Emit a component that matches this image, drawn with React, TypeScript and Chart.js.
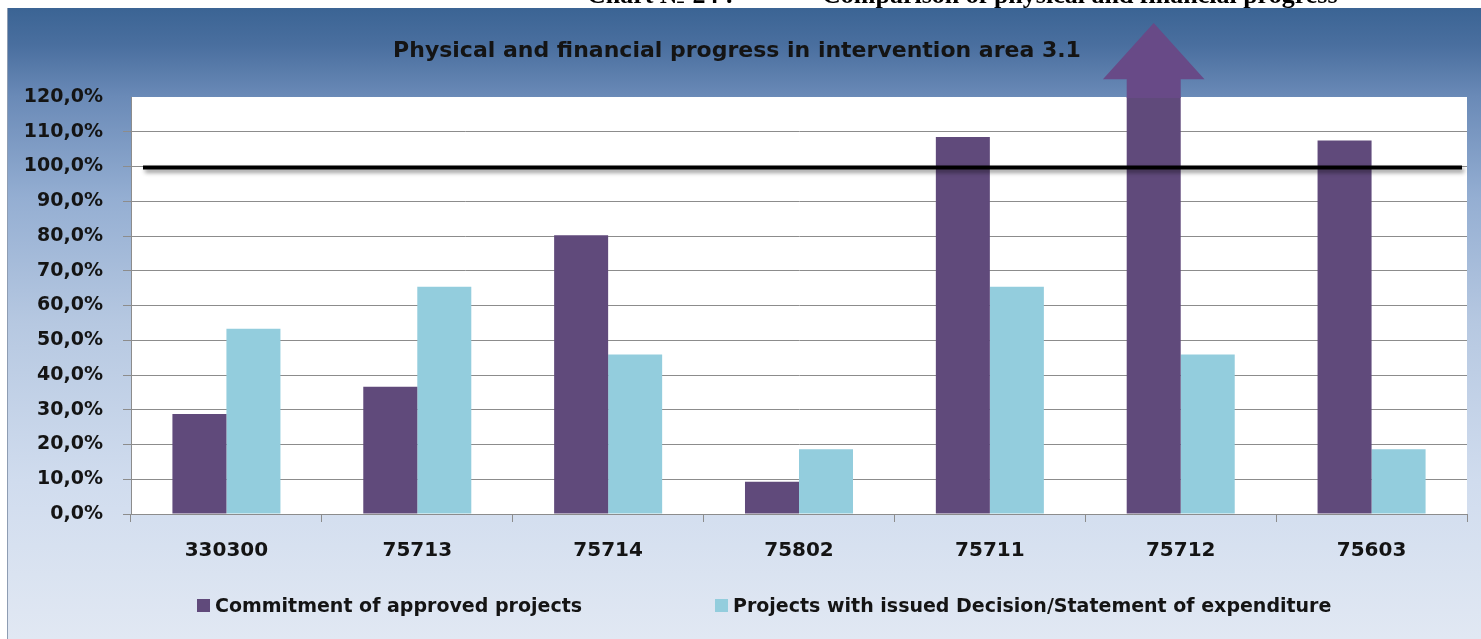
import React, { useEffect, useRef } from "react";
import { Chart, registerables } from "chart.js";

Chart.register(...registerables);

// ---- data ----
const categories = ["330300", "75713", "75714", "75802", "75711", "75712", "75603"];
const commitment = [28.8, 36.6, 80.2, 9.3, 108.5, 120, 107.5];
const issued = [53.3, 65.4, 45.9, 18.6, 65.4, 45.9, 18.6];
const seriesNames = [
  "Commitment of approved projects",
  "Projects with issued Decision/Statement of expenditure",
];
const yMin = 0;
const yMax = 120;
const yStep = 10;
const referenceLevel = 100;
const chartTitle = "Physical and financial progress in intervention area 3.1";
const captionNumber = "Chart № 24 :";
const captionText = "Comparison of physical and financial progress";

const FONT = "'DejaVu Sans', sans-serif";
const PURPLE = "#604A7B";
const AQUA = "#93CDDD";
const seriesColors = [PURPLE, AQUA];
const ARROW = "#684A87";
const GRID = "#8c8c8c";
const TEXT = "#141414";

const fmt = (v: number) => v.toFixed(1).replace(".", ",") + "%";

const plotBackground = {
  id: "plotBackground",
  beforeDraw(chart: any) {
    const { ctx, chartArea: a } = chart;
    ctx.save();
    ctx.fillStyle = "#ffffff";
    ctx.fillRect(a.left, a.top, a.right - a.left, a.bottom - a.top);
    ctx.restore();
  },
};

const overlays = {
  id: "overlays",
  afterDatasetsDraw(chart: any) {
    const { ctx, chartArea: a } = chart;
    // arrow for off-scale bars
    const meta = chart.getDatasetMeta(0);
    commitment.forEach((v, i) => {
      if (v < yMax) return;
      const bar: any = meta.data[i];
      const { x, width } = bar.getProps(["x", "width"], true);
      const half = width / 2;
      const top = a.top + 1;
      const headBase = a.top - width * 0.33;
      const tip = a.top - width * 1.37;
      const headHalf = width * 0.94;
      ctx.save();
      ctx.fillStyle = ARROW;
      ctx.beginPath();
      ctx.moveTo(x - half, top);
      ctx.lineTo(x - half, headBase);
      ctx.lineTo(x - headHalf, headBase);
      ctx.lineTo(x, tip);
      ctx.lineTo(x + headHalf, headBase);
      ctx.lineTo(x + half, headBase);
      ctx.lineTo(x + half, top);
      ctx.closePath();
      ctx.fill();
      ctx.restore();
    });
    // reference line
    const y = chart.scales.y.getPixelForValue(referenceLevel) + 1;
    ctx.save();
    ctx.shadowColor = "rgba(0,0,0,0.45)";
    ctx.shadowBlur = 4;
    ctx.shadowOffsetX = 2;
    ctx.shadowOffsetY = 3;
    ctx.strokeStyle = "#000";
    ctx.lineWidth = 4;
    ctx.beginPath();
    ctx.moveTo(a.left + 12, y);
    ctx.lineTo(a.right - 5, y);
    ctx.stroke();
    ctx.restore();
  },
};

const legendLefts = [197, 715];

export default function App() {
  const ref = useRef<HTMLCanvasElement | null>(null);

  useEffect(() => {
    if (!ref.current) return;
    const chart = new Chart(ref.current, {
      type: "bar",
      data: {
        labels: categories,
        datasets: [
          {
            label: seriesNames[0],
            data: commitment,
            backgroundColor: PURPLE,
            categoryPercentage: 0.566,
            barPercentage: 1,
          },
          {
            label: seriesNames[1],
            data: issued,
            backgroundColor: AQUA,
            categoryPercentage: 0.566,
            barPercentage: 1,
          },
        ],
      },
      options: {
        responsive: false,
        animation: false,
        devicePixelRatio: 1,
        layout: { padding: { left: 0, right: 14, top: 0, bottom: 62 } },
        plugins: {
          title: {
            display: true,
            text: chartTitle,
            color: TEXT,
            font: { family: FONT, size: 22, weight: "bold" },
            padding: { top: 30, bottom: 32.6 },
          },
          legend: { display: false },
          tooltip: { enabled: false },
        },
        scales: {
          x: {
            grid: {
              drawOnChartArea: false,
              drawTicks: true,
              tickLength: 8,
              color: GRID,
              offset: true,
            },
            border: { color: GRID },
            ticks: {
              color: TEXT,
              font: { family: FONT, size: 20, weight: "bold" },
              padding: 17,
            },
            afterFit(scale: any) {
              scale.height = 63;
            },
          },
          y: {
            min: yMin,
            max: yMax,
            grid: {
              color: (c: any) => (c.tick && c.tick.value === yMax ? "rgba(0,0,0,0)" : GRID),
              tickLength: 8,
            },
            border: { color: GRID },
            ticks: {
              stepSize: yStep,
              color: TEXT,
              font: { family: FONT, size: 19, weight: "bold" },
              padding: 20,
              callback: (v: any) => fmt(Number(v)),
            },
            afterFit(scale: any) {
              scale.width = 124;
            },
          },
        },
      },
      plugins: [plotBackground, overlays],
    });
    return () => chart.destroy();
  }, []);

  return (
    <div>
      <div
        style={{
          position: "fixed",
          top: -18,
          left: 0,
          width: 1481,
          height: 30,
          fontFamily: "'Liberation Serif', serif",
          fontWeight: "bold",
          fontSize: 26,
          lineHeight: "26px",
          color: "#000",
          whiteSpace: "nowrap",
        }}
      >
        <span style={{ position: "absolute", left: 587, top: 0 }}>{captionNumber}</span>
        <span style={{ position: "absolute", left: 822, top: 0 }}>{captionText}</span>
      </div>
      <div
        style={{
          position: "fixed",
          left: 7,
          top: 8,
          width: 1474,
          height: 631,
          background:
            "linear-gradient(to bottom, #3b6494 0%, #4a6f9f 6%, #6a8ab7 14%, #94aed2 30%, #b6c8e1 50%, #d0dcee 75%, #e1e8f3 100%)",
          boxShadow: "inset 1px 0 0 #8e9db3",
        }}
      >
        <canvas ref={ref} width={1474} height={631} style={{ display: "block" }} />
      </div>
      {seriesNames.map((name, i) => (
        <div
          key={name}
          style={{
            position: "fixed",
            top: 593,
            left: legendLefts[i],
            height: 24,
            display: "flex",
            alignItems: "center",
            whiteSpace: "nowrap",
            fontFamily: FONT,
            fontWeight: "bold",
            fontSize: 19,
            lineHeight: "24px",
            color: TEXT,
          }}
        >
          <span
            style={{
              display: "inline-block",
              width: 13,
              height: 13,
              background: seriesColors[i],
              marginRight: 5,
            }}
          />
          <span>{name}</span>
        </div>
      ))}
    </div>
  );
}
